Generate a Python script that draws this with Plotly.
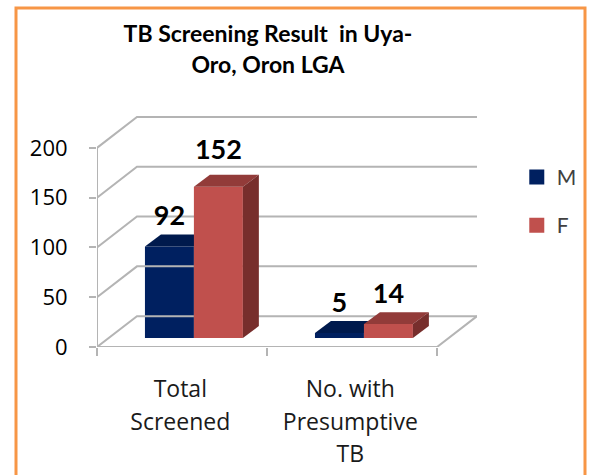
import plotly.graph_objects as go

categories = ["Total<br>Screened", "No. with<br>Presumptive<br>TB"]
series_names = ["M", "F"]
m_values = [92, 5]
f_values = [152, 14]
y_ticks = [0, 50, 100, 150, 200]

NAVY, NAVY_TOP, NAVY_SIDE = "#002060", "#001A4D", "#001440"
RED, RED_TOP, RED_SIDE = "#C0504D", "#923B39", "#772E2C"
GRID = "#B4B4B4"
FONT = "Lato"
AXIS_FONT = "Open Sans"

WALL_X, WALL_Y = 0.235, 31
BAR_W = 0.288
DEPTH_X, DEPTH_Y = 0.094, 12
FLOOR_X, FLOOR_Y = 0.07, 9
X_MAX = 2 + WALL_X
Y_MAX = 233
M_LABEL_LIFT = [3, 2]
F_LABEL_LIFT = [9, 2]

fig = go.Figure()


def line(xs, ys, width=2):
    fig.add_trace(go.Scatter(x=xs, y=ys, mode="lines", line=dict(color=GRID, width=width),
                             showlegend=False, hoverinfo="skip", xaxis="x", yaxis="y"))


for v in y_ticks:
    line([0, WALL_X, X_MAX], [v, v + WALL_Y, v + WALL_Y])
line([0, 2, X_MAX], [0, 0, WALL_Y])
line([0, 0], [0, y_ticks[-1]])


def bar_set(values, side, name, front, top, sidec, xa, ya):
    lefts = [i + 0.5 + FLOOR_X + (-BAR_W if side == 0 else 0) for i in range(len(values))]
    centers = [l + BAR_W / 2 for l in lefts]
    fig.add_trace(go.Bar(x=centers, y=values, base=[FLOOR_Y] * len(values), width=BAR_W,
                         marker=dict(color=front, line=dict(width=0)), name=name,
                         showlegend=False, xaxis=xa, yaxis=ya, hoverinfo="skip"))
    for l, v in zip(lefts, values):
        t = FLOOR_Y + v
        r = l + BAR_W
        fig.add_trace(go.Scatter(x=[l, r, r + DEPTH_X, l + DEPTH_X, l],
                                 y=[t, t, t + DEPTH_Y, t + DEPTH_Y, t],
                                 fill="toself", fillcolor=top, mode="lines", line=dict(width=0),
                                 showlegend=False, hoverinfo="skip", xaxis=xa, yaxis=ya))
        fig.add_trace(go.Scatter(x=[r, r + DEPTH_X, r + DEPTH_X, r, r],
                                 y=[FLOOR_Y, FLOOR_Y + DEPTH_Y, t + DEPTH_Y, t, FLOOR_Y],
                                 fill="toself", fillcolor=sidec, mode="lines", line=dict(width=0),
                                 showlegend=False, hoverinfo="skip", xaxis=xa, yaxis=ya))
    return centers


c_m = bar_set(m_values, 0, series_names[0], NAVY, NAVY_TOP, NAVY_SIDE, "x", "y")
c_f = bar_set(f_values, 1, series_names[1], RED, RED_TOP, RED_SIDE, "x2", "y2")

for name, centers, values, lifts, color in [
        (series_names[0], c_m, m_values, M_LABEL_LIFT, NAVY),
        (series_names[1], c_f, f_values, F_LABEL_LIFT, RED)]:
    fig.add_trace(go.Scatter(x=centers, y=[FLOOR_Y + v + DEPTH_Y + d for v, d in zip(values, lifts)],
                             mode="text", text=[str(v) for v in values], textposition="top center",
                             textfont=dict(family=FONT, size=27, color="#000000", weight="bold"),
                             showlegend=False, hoverinfo="skip", xaxis="x2", yaxis="y2"))
    fig.add_trace(go.Scatter(x=[None], y=[None], mode="markers", name=name, legendgroup=name,
                             marker=dict(symbol="square", size=15, color=color),
                             xaxis="x2", yaxis="y2"))

fig.update_layout(
    width=594, height=475,
    margin=dict(l=97, r=117, t=115, b=128, autoexpand=False),
    paper_bgcolor="#FFFFFF", plot_bgcolor="rgba(0,0,0,0)",
    showlegend=True,
    legend=dict(xref="container", yref="container", x=0.87, y=0.67, xanchor="left", yanchor="top",
                tracegroupgap=18, font=dict(family=FONT, size=21, color="#404040"),
                bgcolor="rgba(0,0,0,0)"),
    title=dict(text='<span style="font-size:23px">TB Screening Result  in Uya-</span><br>'
                    '<span style="font-size:23px">Oro, Oron LGA</span>',
               x=268 / 594, xanchor="center", y=1 - 42 / 475, yanchor="top",
               pad=dict(t=0), font=dict(family=FONT, size=24, color="#000000", weight="bold")),
    xaxis=dict(range=[0, X_MAX], tickvals=[0.49, 1.49], automargin=False,
               ticktext=[f'<span style="font-size:23px">{c}</span>' for c in categories],
               ticks="", showgrid=False, zeroline=False, showline=False,
               tickfont=dict(family=AXIS_FONT, size=25, color="#1A1A1A"),
               ticklabelstandoff=24, tickangle=0,
               minor=dict(tickvals=[0, 1, 2], ticks="outside", ticklen=8, tickwidth=2, tickcolor=GRID)),
    yaxis=dict(range=[0, Y_MAX], tickvals=y_ticks, ticks="outside", ticklen=7, tickwidth=2,
               automargin=False, tickcolor=GRID, showgrid=False, zeroline=False, showline=False,
               tickfont=dict(family=AXIS_FONT, size=22, color="#000000"), ticklabelstandoff=17),
    xaxis2=dict(range=[0, X_MAX], overlaying="x", visible=False),
    yaxis2=dict(range=[0, Y_MAX], overlaying="y", visible=False),
    barmode="overlay",
    shapes=[dict(type="rect", xref="paper", yref="paper",
                 x0=(16 - 97) / 380, x1=(585 - 97) / 380, y0=-0.7, y1=(347 - 8) / 232,
                 line=dict(color="#F79646", width=3), fillcolor="rgba(0,0,0,0)", layer="below")],
)
fig.write_html("out.html", config=dict(displayModeBar=False),
               post_script="document.body.style.margin='0';")
